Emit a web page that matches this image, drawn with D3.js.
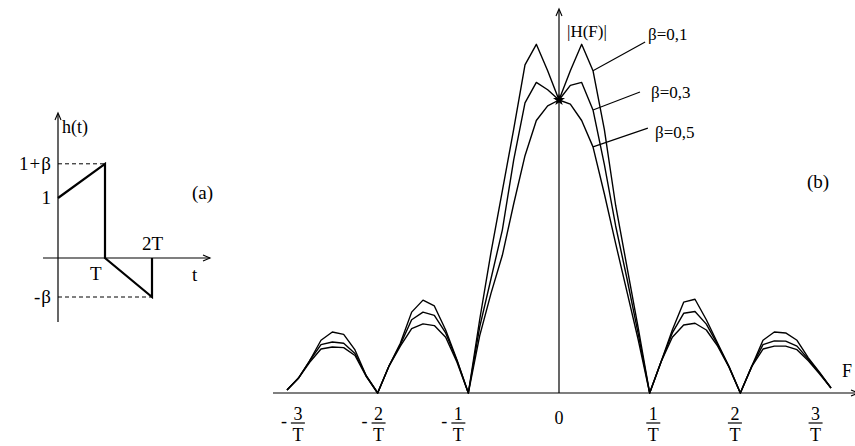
<!DOCTYPE html>
<html>
<head>
<meta charset="utf-8">
<script src="https://cdn.jsdelivr.net/npm/d3@7"></script>
<style>
    body { margin: 0; background: #fff; }
    svg { display: block; }
    text { font-family: 'Liberation Serif', 'DejaVu Serif', serif; fill: #000; }
</style>
</head>
<body>
<svg id="svg-chart"></svg>
<script>
// ---- (b) |H(F)| 数据, 频率单位 1/T, 幅度单位 H(0)
let freqList = [-3, -2.875, -2.75, -2.625, -2.5, -2.375, -2.25, -2.125, -2,
    -1.875, -1.75, -1.625, -1.5, -1.375, -1.25, -1.125, -1,
    -0.875, -0.75, -0.625, -0.5, -0.375, -0.25, -0.125, 0,
    0.125, 0.25, 0.375, 0.5, 0.625, 0.75, 0.875, 1,
    1.125, 1.25, 1.375, 1.5, 1.625, 1.75, 1.875, 2,
    2.125, 2.25, 2.375, 2.5, 2.625, 2.75, 2.875, 3];
let hBeta01 = [0.01, 0.05, 0.11, 0.18, 0.208, 0.2, 0.147, 0.058, 0,
    0.092, 0.17, 0.276, 0.317, 0.297, 0.215, 0.113, 0,
    0.25, 0.48, 0.69, 0.9, 1.12, 1.19, 1.1, 1.0,
    1.1, 1.19, 1.1, 0.9, 0.64, 0.43, 0.22, 0,
    0.106, 0.215, 0.31, 0.32, 0.25, 0.17, 0.09, 0,
    0.09, 0.18, 0.208, 0.205, 0.18, 0.12, 0.07, 0.017];
let hBeta03 = [0.01, 0.05, 0.11, 0.165, 0.174, 0.17, 0.135, 0.058, 0,
    0.092, 0.165, 0.25, 0.276, 0.265, 0.205, 0.11, 0,
    0.225, 0.39, 0.556, 0.795, 0.99, 1.06, 1.035, 1.0,
    1.05, 1.06, 0.966, 0.78, 0.57, 0.39, 0.2, 0,
    0.106, 0.205, 0.272, 0.278, 0.235, 0.165, 0.09, 0,
    0.09, 0.165, 0.178, 0.177, 0.16, 0.115, 0.068, 0.017];
let hBeta05 = [0.01, 0.05, 0.105, 0.15, 0.157, 0.155, 0.128, 0.056, 0,
    0.092, 0.16, 0.22, 0.236, 0.23, 0.19, 0.105, 0,
    0.195, 0.34, 0.47, 0.645, 0.81, 0.93, 0.98, 1.0,
    0.986, 0.93, 0.84, 0.68, 0.51, 0.345, 0.18, 0,
    0.106, 0.19, 0.232, 0.238, 0.215, 0.16, 0.088, 0,
    0.09, 0.15, 0.16, 0.16, 0.148, 0.11, 0.065, 0.017];
let betaNames = ['β=0,1', 'β=0,3', 'β=0,5'];
// 引线: 从曲线上 F=0.375 处 连到 标签
let leaderFreq = 0.375;
let leaderEnd = [[0.95, 1.198], [0.893, 1.027], [0.98, 0.904]];
let betaLabelPos = [[0.982, 1.205], [1.015, 1.007], [1.059, 0.87]];
// 横轴 刻度
let tickNumer = ['3', '2', '1', '0', '1', '2', '3'];
let tickSign = [-1, -1, -1, 0, 1, 1, 1];
let tickLabelPos = [-2.88, -1.99, -1.11, 0, 1.04, 1.94, 2.83];

// ---- (a) h(t) 数据, t 单位 T
let tList = [0, 1, 1, 2, 2];
let hList = [1, 1.57, 0, -0.65, 0];
let hLevelNames = ['1+β', '1', '-β'];
let hLevels = [1.57, 1, -0.65];

let svgWidth = 855, svgHeight = 446;
let svg = d3.select('#svg-chart')
    .attr('width', svgWidth)
    .attr('height', svgHeight);
svg.append('rect').attr('width', svgWidth).attr('height', svgHeight).attr('fill', '#fff');

draw_panel_a();
draw_panel_b();

function draw_panel_a() {
    let g = svg.append('g').attr('id', 'g-panel-a');
    let xScale = d3.scaleLinear().domain([0, 1]).range([58, 105]);
    let yScale = d3.scaleLinear().domain([0, 1]).range([258, 198]);

    // 坐标轴
    g.append('line')
        .attr('x1', xScale(0)).attr('x2', xScale(0))
        .attr('y1', 322).attr('y2', 114)
        .attr('stroke', '#000').attr('stroke-width', 1.2);
    g.append('path')
        .attr('d', 'M' + (xScale(0) - 3) + ',' + 120 + 'L' + xScale(0) + ',' + 113 + 'L' + (xScale(0) + 3) + ',' + 120)
        .attr('fill', 'none').attr('stroke', '#000').attr('stroke-width', 1.1);
    g.append('line')
        .attr('x1', 43).attr('x2', 210)
        .attr('y1', yScale(0)).attr('y2', yScale(0))
        .attr('stroke', '#000').attr('stroke-width', 1.2);
    g.append('path')
        .attr('d', 'M' + 203 + ',' + (yScale(0) - 3) + 'L' + 210 + ',' + yScale(0) + 'L' + 203 + ',' + (yScale(0) + 3))
        .attr('fill', 'none').attr('stroke', '#000').attr('stroke-width', 1.1);

    // 虚线
    g.append('line')
        .attr('x1', xScale(0)).attr('x2', xScale(tList[1]))
        .attr('y1', yScale(hList[1])).attr('y2', yScale(hList[1]))
        .attr('stroke', '#000').attr('stroke-dasharray', '4,3');
    g.append('line')
        .attr('x1', xScale(0)).attr('x2', xScale(tList[3]))
        .attr('y1', yScale(hList[3])).attr('y2', yScale(hList[3]))
        .attr('stroke', '#000').attr('stroke-dasharray', '4,3');

    // h(t)
    let line = d3.line()
        .x(function (d, i) { return xScale(tList[i]); })
        .y(function (d) { return yScale(d); });
    g.append('path')
        .attr('d', line(hList))
        .attr('fill', 'none')
        .attr('stroke', '#000')
        .attr('stroke-width', 2.2);

    // 文字
    g.selectAll('.hLevel')
        .data(hLevelNames)
        .enter()
        .append('text')
        .attr('class', 'hLevel')
        .attr('x', 52)
        .attr('y', function (d, i) { return yScale(hLevels[i]) + 6; })
        .attr('text-anchor', 'end')
        .style('font-size', '19px')
        .style('letter-spacing', '1px')
        .text(function (d) { return d; });
    g.append('text').attr('x', 62).attr('y', 133).style('font-size', '18px').text('h(t)');
    g.append('text').attr('x', xScale(1) - 15).attr('y', 280).style('font-size', '19px').text('T');
    g.append('text').attr('x', xScale(2) - 10).attr('y', 250).style('font-size', '19px').text('2T');
    g.append('text').attr('x', 192).attr('y', 281).style('font-size', '19px').text('t');
    g.append('text').attr('x', 192).attr('y', 199).style('font-size', '19px').text('(a)');
}

function draw_panel_b() {
    let g = svg.append('g').attr('id', 'g-panel-b');
    let xScale = d3.scaleLinear().domain([-3, 3]).range([287, 831]);
    let yScale = d3.scaleLinear().domain([0, 1]).range([393, 100]);

    // 坐标轴
    g.append('line')
        .attr('x1', 273).attr('x2', svgWidth)
        .attr('y1', yScale(0)).attr('y2', yScale(0))
        .attr('stroke', '#000').attr('stroke-width', 1.2);
    g.append('path')
        .attr('d', 'M' + 851 + ',' + (yScale(0) - 3) + 'L' + 858 + ',' + yScale(0) + 'L' + 851 + ',' + (yScale(0) + 3))
        .attr('fill', 'none').attr('stroke', '#000').attr('stroke-width', 1.1);
    g.append('line')
        .attr('x1', xScale(0)).attr('x2', xScale(0))
        .attr('y1', yScale(0)).attr('y2', 10)
        .attr('stroke', '#000').attr('stroke-width', 1.2);
    g.append('path')
        .attr('d', 'M' + (xScale(0) - 3) + ',' + 16 + 'L' + xScale(0) + ',' + 9 + 'L' + (xScale(0) + 3) + ',' + 16)
        .attr('fill', 'none').attr('stroke', '#000').attr('stroke-width', 1.1);

    // 三条曲线
    let seriesList = [hBeta01, hBeta03, hBeta05];
    let line = d3.line()
        .x(function (d, i) { return xScale(freqList[i]); })
        .y(function (d) { return yScale(d); });
    g.selectAll('.hCurve')
        .data(seriesList)
        .enter()
        .append('path')
        .attr('class', 'hCurve')
        .attr('d', function (d) { return line(d); })
        .attr('fill', 'none')
        .attr('stroke', '#000')
        .attr('stroke-width', 1.4)
        .attr('stroke-linejoin', 'round');

    // 交点
    g.append('path')
        .attr('d', d3.symbol().type(d3.symbolStar).size(45)())
        .attr('transform', 'translate(' + xScale(0) + ',' + yScale(1) + ')')
        .attr('fill', '#000');

    // 引线 和 标签
    let k = freqList.indexOf(leaderFreq);
    seriesList.forEach(function (s, i) {
        g.append('line')
            .attr('x1', xScale(leaderFreq)).attr('y1', yScale(s[k]))
            .attr('x2', xScale(leaderEnd[i][0])).attr('y2', yScale(leaderEnd[i][1]))
            .attr('stroke', '#000').attr('stroke-width', 1.1);
        g.append('text')
            .attr('x', xScale(betaLabelPos[i][0]))
            .attr('y', yScale(betaLabelPos[i][1]))
            .style('font-size', '17px')
            .text(betaNames[i]);
    });

    g.append('text').attr('x', xScale(0) + 8).attr('y', 37).style('font-size', '17px').text('|H(F)|');
    g.append('text').attr('x', 807).attr('y', 188).style('font-size', '19px').text('(b)');
    g.append('text').attr('x', 842).attr('y', 377).style('font-size', '18px').text('F');

    // 刻度 标签
    let gTick = g.selectAll('.tickLabel')
        .data(tickNumer)
        .enter()
        .append('g')
        .attr('class', 'tickLabel')
        .attr('transform', function (d, i) { return 'translate(' + xScale(tickLabelPos[i]) + ',0)'; });
    gTick.append('text')
        .attr('x', 0)
        .attr('y', function (d, i) { return tickSign[i] === 0 ? 424 : 420; })
        .attr('text-anchor', 'middle')
        .style('font-size', '18px')
        .text(function (d) { return d; });
    gTick.filter(function (d, i) { return tickSign[i] !== 0; })
        .append('line')
        .attr('x1', -7).attr('x2', 7)
        .attr('y1', 423).attr('y2', 423)
        .attr('stroke', '#000').attr('stroke-width', 1.2);
    gTick.filter(function (d, i) { return tickSign[i] !== 0; })
        .append('text')
        .attr('x', 0).attr('y', 441)
        .attr('text-anchor', 'middle')
        .style('font-size', '18px')
        .text('T');
    gTick.filter(function (d, i) { return tickSign[i] < 0; })
        .append('text')
        .attr('x', -14).attr('y', 427)
        .attr('text-anchor', 'middle')
        .style('font-size', '18px')
        .text('-');
}
</script>
</body>
</html>
